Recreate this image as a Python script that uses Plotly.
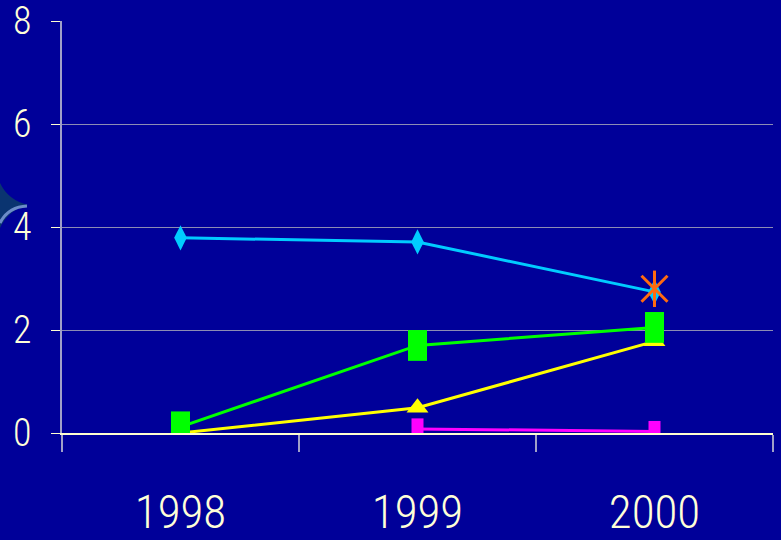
import plotly.graph_objects as go

years = ["1998", "1999", "2000"]
cyan_vals = [3.79, 3.71, 2.74]
green_vals = [0.12, 1.70, 2.05]
yellow_vals = [0.0, 0.49, 1.78]
magenta_years = ["1999", "2000"]
magenta_vals = [0.08, 0.03]
orange_years = ["2000"]
orange_vals = [2.8]
y_ticks = [0, 2, 4, 6, 8]

BG = "#000099"
FONT = "Roboto Condensed, Liberation Sans Narrow, DejaVu Sans Condensed, sans-serif"
TXT = "#FFFFD8"

fig = go.Figure()
fig.add_trace(go.Scatter(x=years, y=cyan_vals, mode="lines+markers",
                         line=dict(color="#00CCFF", width=3),
                         marker=dict(symbol="diamond-tall", size=18, color="#00CCFF")))
fig.add_trace(go.Scatter(x=years, y=yellow_vals, mode="lines+markers",
                         line=dict(color="#FFFF00", width=3),
                         marker=dict(symbol="triangle-up", size=19, color="#FFFF00")))
fig.add_trace(go.Scatter(x=magenta_years, y=magenta_vals, mode="lines+markers",
                         line=dict(color="#FF00FF", width=3),
                         marker=dict(symbol="line-ns", size=15, color="#FF00FF",
                                     line=dict(width=12, color="#FF00FF"))))
fig.add_trace(go.Scatter(x=years, y=green_vals, mode="lines+markers",
                         line=dict(color="#00FF00", width=3),
                         marker=dict(symbol="line-ns", size=22, color="#00FF00",
                                     line=dict(width=19, color="#00FF00"))))
fig.add_trace(go.Scatter(x=orange_years, y=orange_vals, mode="markers",
                         marker=dict(symbol="x-thin", size=26, color="#FF6A10",
                                     line=dict(width=3, color="#FF6A10"))))
fig.add_trace(go.Scatter(x=orange_years, y=orange_vals, mode="markers",
                         marker=dict(symbol="line-ns", size=26, color="#FF6A10",
                                     line=dict(width=3, color="#FF6A10"))))

# decorative star at left edge (pixel -> paper)
L, R, T, B = 62, 773, 21, 433
def px(x):
    return (x - L) / (R - L)
def py(y):
    return (B - y) / (B - T)

star = (f"M {px(28)},{py(205)} Q {px(8)},{py(200)} {px(0)},{py(183)} "
        f"L {px(0)},{py(228)} Q {px(8)},{py(210)} {px(28)},{py(205)} Z")
arc = f"M {px(27)},{py(206)} Q {px(8)},{py(207)} {px(0)},{py(223)}"

fig.update_layout(
    width=781, height=540,
    paper_bgcolor=BG, plot_bgcolor=BG,
    margin=dict(l=L, r=781 - R, t=T, b=540 - B, autoexpand=False),
    showlegend=False,
    font=dict(family=FONT, color=TXT, weight=300),
    shapes=[
        dict(type="path", path=star, xref="paper", yref="paper",
             fillcolor="#0A3470", line=dict(width=0), layer="below"),
        dict(type="path", path=arc, xref="paper", yref="paper",
             line=dict(color="#6C8CC8", width=3), layer="below"),
    ],
)
fig.update_xaxes(
    type="category", range=[-0.5, 2.5], automargin=False,
    showgrid=False, showline=True, linecolor="#FFFFD0", linewidth=2,
    ticks="outside", tickson="boundaries", ticklen=17, tickwidth=2,
    tickcolor="#A0A0C8",
    tickfont=dict(size=47, color=TXT, family=FONT, weight=300),
    ticklabelstandoff=37, ticklabeloverflow="allow",
    zeroline=False, fixedrange=True,
)
fig.update_yaxes(
    range=[0, 8], tickvals=y_ticks, ticktext=[str(v) for v in y_ticks],
    automargin=False,
    showgrid=True, gridcolor="#8C8CB4", gridwidth=1,
    showline=True, linecolor="#A0A0C8", linewidth=2,
    ticks="outside", ticklen=9, tickwidth=1, tickcolor="#FFFFD0",
    tickfont=dict(size=38, color=TXT, family=FONT, weight=300),
    ticklabelstandoff=12, ticklabeloverflow="allow",
    zeroline=False, fixedrange=True,
)

fig.write_html("out.html", config={"displayModeBar": False},
               post_script="document.body.style.margin='0';")
